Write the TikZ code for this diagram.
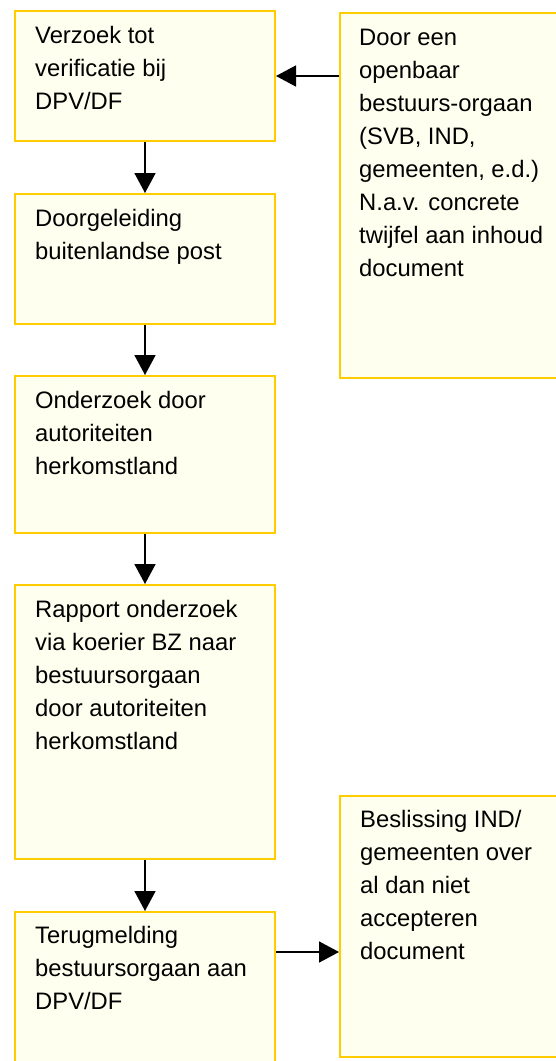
\documentclass[tikz,border=0pt]{standalone}
\usepackage{fontspec}
\setmainfont{Liberation Sans}
\usetikzlibrary{arrows.meta,calc}
\definecolor{boxfill}{RGB}{255,255,240}
\definecolor{boxline}{RGB}{255,204,0}
\begin{document}
\begin{tikzpicture}[x=1pt,y=-1pt,
  stepbox/.style={draw=boxline,fill=boxfill,line width=2pt,rectangle,inner sep=0pt,anchor=north west},
  txt/.style={anchor=base west,inner sep=0pt,font=\fontsize{23.8}{33}\selectfont},
  conn/.style={line width=1.6pt,-{Triangle[length=20pt,width=21pt]}}]
\useasboundingbox (0,0) rectangle (556,1061);
\clip (0,0) rectangle (556,1061);
% left column
\node[stepbox,minimum width=260pt,minimum height=130pt] (b1) at (14,10) {};
\node[stepbox,minimum width=260pt,minimum height=130pt] (b2) at (14,193) {};
\node[stepbox,minimum width=260pt,minimum height=157pt] (b3) at (14,375) {};
\node[stepbox,minimum width=260pt,minimum height=274pt] (b4) at (14,584) {};
\node[stepbox,minimum width=260pt,minimum height=170pt] (b5) at (14,911) {};
% right column
\node[stepbox,minimum width=240pt,minimum height=365pt] (r1) at (339,12) {};
\node[stepbox,minimum width=240pt,minimum height=261pt] (r2) at (339,795) {};
% texts
\node[txt] (t1) at (35,43) {\parbox[t]{230pt}{\raggedright Verzoek tot\\verificatie bij\\DPV/DF}};
\node[txt] (t2) at (35,226) {\parbox[t]{230pt}{\raggedright Doorgeleiding\\buitenlandse post}};
\node[txt] (t3) at (35,408) {\parbox[t]{230pt}{\raggedright Onderzoek door\\autoriteiten\\herkomstland}};
\node[txt] (t4) at (35,617) {\parbox[t]{230pt}{\raggedright Rapport onderzoek\\via koerier BZ naar\\bestuursorgaan\\door autoriteiten\\herkomstland}};
\node[txt] (t5) at (35,943) {\parbox[t]{230pt}{\raggedright Terugmelding\\bestuursorgaan aan\\DPV/DF}};
\node[txt] (t6) at (359,45) {\parbox[t]{200pt}{\raggedright Door een\\openbaar\\bestuurs-orgaan\\(SVB, IND,\\gemeenten, e.d.)\\N.a.v. concrete\\twijfel aan inhoud\\document}};
\node[txt] (t7) at (360,827) {\parbox[t]{200pt}{\raggedright Beslissing IND/\\gemeenten over\\al dan niet\\accepteren\\document}};
% connectors
\draw[conn] (b1.south) -- (b2.north);
\draw[conn] (b2.south) -- (b3.north);
\draw[conn] (b3.south) -- (b4.north);
\draw[conn] (b4.south) -- (b5.north);
\draw[conn] (r1.west |- 0,76) -- (b1.east |- 0,76);
\draw[conn] (b5.east |- 0,952) -- (r2.west |- 0,952);
\end{tikzpicture}
\end{document}
